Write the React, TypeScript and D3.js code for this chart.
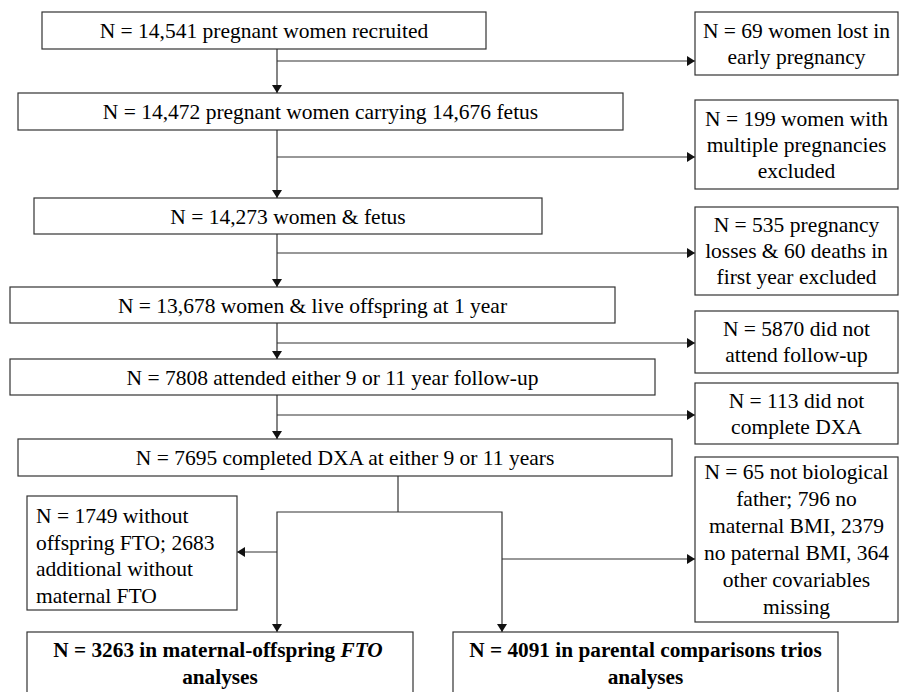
import * as d3 from 'd3';

// main flow steps (left column)
const mainLabels = [
  'N = 14,541 pregnant women recruited',
  'N = 14,472 pregnant women carrying 14,676 fetus',
  'N = 14,273 women & fetus',
  'N = 13,678 women & live offspring at 1 year',
  'N = 7808 attended either 9 or 11 year follow-up',
  'N = 7695 completed DXA at either 9 or 11 years',
];

// exclusions (right column)
const exclusionLabels = [
  ['N = 69 women lost in', 'early pregnancy'],
  ['N = 199 women with', 'multiple pregnancies', 'excluded'],
  ['N = 535 pregnancy', 'losses & 60 deaths in', 'first year excluded'],
  ['N = 5870 did not', 'attend follow-up'],
  ['N = 113 did not', 'complete DXA'],
  ['N = 65 not biological', 'father; 796 no', 'maternal BMI, 2379', 'no paternal BMI, 364', 'other covariables', 'missing'],
];

const leftExclusion = ['N = 1749 without', 'offspring FTO; 2683', 'additional without', 'maternal FTO'];

// layout
const mainBoxes = [
  [42, 486, 12, 49],
  [18, 623, 93, 130],
  [34, 542, 198, 234],
  [10, 615, 287, 323],
  [10, 655, 359, 395],
  [18, 672, 439, 476],
];
const rightBoxes = [
  [12, 75],
  [100, 189],
  [207, 295],
  [311, 373],
  [383, 444],
  [457, 622],
];
const branchY = [61, 157, 253, 343, 415];
const spineX = 277;
const rightX0 = 695;
const rightX1 = 898;
const stroke = '#333';
const font = "'Liberation Serif', 'Times New Roman', Times, 'DejaVu Serif', serif";
const txt = { fontFamily: font };

const line = d3.line<[number, number]>();

const Arrow = ({ x, y, dir }: { x: number; y: number; dir: 'down' | 'right' | 'left' }) => {
  const s = 5;
  const l = 8;
  let pts: [number, number][];
  if (dir === 'down') pts = [[x - s, y - l], [x + s, y - l], [x, y]];
  else if (dir === 'right') pts = [[x - l, y - s], [x - l, y + s], [x, y]];
  else pts = [[x + l, y - s], [x + l, y + s], [x, y]];
  return <path d={line(pts) + 'Z'} fill="#111" />;
};

const Seg = ({ pts }: { pts: [number, number][] }) => (
  <path d={line(pts) || ''} fill="none" stroke={stroke} strokeWidth={1.2} />
);

const App = () => {
  const fs = 21.5;
  const fb = 21.3;
  return (
    <div style={{ position: 'absolute', left: 0, top: 0 }}>
      <svg width={899} height={692} style={{ display: 'block', background: '#fff', fontFamily: font }}>
        {mainBoxes.map(([x0, x1, y0, y1], i) => (
          <g key={'m' + i}>
            <rect x={x0} y={y0} width={x1 - x0} height={y1 - y0} fill="#fff" stroke={stroke} strokeWidth={1.2} />
            <text x={(x0 + x1) / 2} y={(y0 + y1) / 2 + 7.5} textAnchor="middle" fontSize={fs} fill="#000" style={txt}>
              {mainLabels[i]}
            </text>
          </g>
        ))}

        {mainBoxes.slice(0, 5).map(([, , , y1], i) => (
          <g key={'c' + i}>
            <Seg pts={[[spineX, y1], [spineX, mainBoxes[i + 1][2]]]} />
            <Arrow x={spineX} y={mainBoxes[i + 1][2]} dir="down" />
            <Seg pts={[[spineX, branchY[i]], [rightX0, branchY[i]]]} />
            <Arrow x={rightX0} y={branchY[i]} dir="right" />
          </g>
        ))}

        {rightBoxes.map(([y0, y1], i) => {
          const lines = exclusionLabels[i];
          const cy = (y0 + y1) / 2 + 7;
          const lh = i === 5 ? 27 : 26;
          return (
            <g key={'r' + i}>
              <rect x={rightX0} y={y0} width={rightX1 - rightX0} height={y1 - y0} fill="#fff" stroke={stroke} strokeWidth={1.2} />
              {lines.map((t, j) => (
                <text
                  key={j}
                  x={(rightX0 + rightX1) / 2}
                  y={cy + (j - (lines.length - 1) / 2) * lh}
                  textAnchor="middle"
                  fontSize={fs}
                  fill="#000"
                  style={txt}
                >
                  {t}
                </text>
              ))}
            </g>
          );
        })}

        {/* split to the two analyses */}
        <Seg pts={[[398, 476], [398, 512]]} />
        <Seg pts={[[spineX, 632], [spineX, 512], [502, 512], [502, 632]]} />
        <Arrow x={spineX} y={632} dir="down" />
        <Arrow x={502} y={632} dir="down" />
        <Seg pts={[[spineX, 552], [237, 552]]} />
        <Arrow x={237} y={552} dir="left" />
        <Seg pts={[[502, 559], [rightX0, 559]]} />
        <Arrow x={rightX0} y={559} dir="right" />

        <rect x={27} y={496} width={210} height={114} fill="#fff" stroke={stroke} strokeWidth={1.2} />
        {leftExclusion.map((t, j) => (
          <text key={j} x={36} y={523 + j * 26.5} fontSize={fs} fill="#000" style={txt}>
            {t}
          </text>
        ))}

        <rect x={27} y={632} width={386} height={80} fill="#fff" stroke={stroke} strokeWidth={1.2} />
        <text x={218} y={657} textAnchor="middle" fontSize={fb} fontWeight="bold" fill="#000" style={txt}>
          N = 3263 in maternal-offspring <tspan fontStyle="italic">FTO</tspan>
        </text>
        <text x={220} y={684} textAnchor="middle" fontSize={fb} fontWeight="bold" fill="#000" style={txt}>
          analyses
        </text>

        <rect x={453} y={632} width={385} height={80} fill="#fff" stroke={stroke} strokeWidth={1.2} />
        <text x={645.5} y={657} textAnchor="middle" fontSize={fb} fontWeight="bold" fill="#000" style={txt}>
          N = 4091 in parental comparisons trios
        </text>
        <text x={645.5} y={684} textAnchor="middle" fontSize={fb} fontWeight="bold" fill="#000" style={txt}>
          analyses
        </text>
      </svg>
    </div>
  );
};

export default App;
